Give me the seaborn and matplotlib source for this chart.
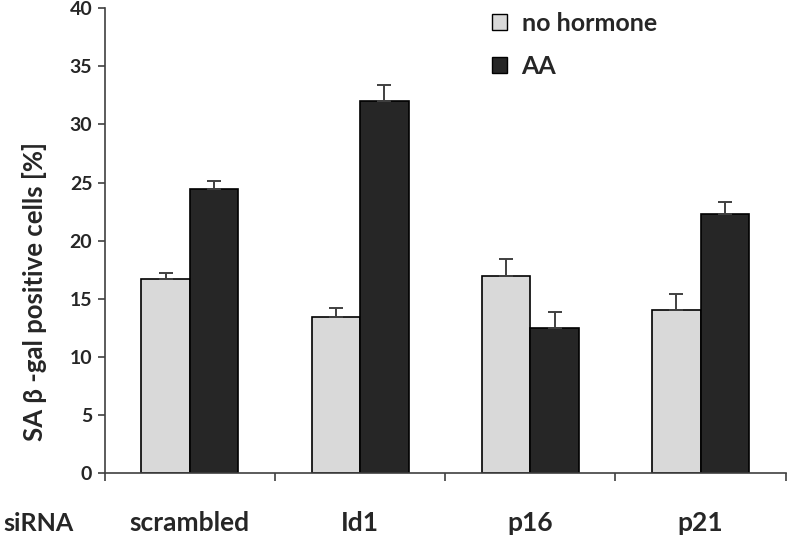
import numpy as np
import pandas as pd
import matplotlib
matplotlib.use("Agg")
import matplotlib.pyplot as plt
from matplotlib.patches import Patch
import seaborn as sns

categories = ["scrambled", "Id1", "p16", "p21"]
treatments = ["no hormone", "AA"]
no_hormone = [16.7, 13.4, 17.0, 14.0]
no_hormone_err = [0.5, 0.8, 1.4, 1.4]
aa = [24.4, 32.0, 12.5, 22.3]
aa_err = [0.7, 1.4, 1.35, 1.0]
yticks = [0, 5, 10, 15, 20, 25, 30, 35, 40]

df = pd.DataFrame({
    "siRNA": categories * 2,
    "treatment": [treatments[0]] * 4 + [treatments[1]] * 4,
    "value": no_hormone + aa,
})

sns.set_style("white")
plt.rcParams['font.family'] = ['Lato', 'DejaVu Sans']
plt.rcParams['font.weight'] = 'bold'

colors = ["#d9d9d9", "#262626"]
fig = plt.figure(figsize=(7.88, 5.39), dpi=100)
ax = fig.add_axes([0.133, 0.122, 0.864, 0.863])

sns.barplot(data=df, x="siRNA", y="value", hue="treatment", order=categories,
            hue_order=treatments, palette=colors, width=0.57, errorbar=None,
            edgecolor="black", linewidth=1.2, legend=False, ax=ax)

# upward-only error bars
offs = 0.57 / 4
xpos = np.arange(len(categories))
for vals, errs, off in [(no_hormone, no_hormone_err, -offs), (aa, aa_err, offs)]:
    ax.errorbar(xpos + off, vals, yerr=[np.zeros(len(vals)), errs], fmt="none",
                ecolor="#404040", elinewidth=1.4, capsize=5, capthick=1.4, zorder=3)

ax.set_xlim(-0.5, 3.5)
ax.set_ylim(0, 40)
ax.set_yticks(yticks)
ax.set_yticklabels([str(t) for t in yticks], fontsize=14, fontweight="bold")
ax.set_xticks(np.arange(-0.5, 4.0, 1.0))
ax.set_xticklabels([])
ax.tick_params(axis="x", direction="out", length=6, width=1.2, color="#404040", bottom=True)
ax.tick_params(axis="y", direction="out", length=5, width=1.2, color="#404040", left=True, pad=4)
for s in ["top", "right"]:
    ax.spines[s].set_visible(False)
for s in ["left", "bottom"]:
    ax.spines[s].set_color("#404040")
    ax.spines[s].set_linewidth(1.2)

for i, c in enumerate(categories):
    ax.text(i, -0.108, c, transform=ax.get_xaxis_transform(), ha="center", va="center",
            fontsize=19, fontweight="bold")
ax.text(-0.097, -0.108, "siRNA", transform=ax.transAxes, ha="center", va="center",
        fontsize=18, fontweight="bold")

ax.set_xlabel("")
ax.set_ylabel("SA β -gal positive cells [%]", fontsize=18.5, fontweight="bold")
ax.yaxis.set_label_coords(-0.085, 0.39)

handles = [Patch(facecolor=colors[i], edgecolor="black", linewidth=1.0, label=t)
           for i, t in enumerate(treatments)]
ax.legend(handles=handles, loc="upper left", bbox_to_anchor=(0.535, 1.04), frameon=False,
          handlelength=0.6, handleheight=0.6, handletextpad=0.6, labelspacing=0.8,
          prop={"size": 18, "weight": "bold"})

fig.savefig("out.png", dpi=100)
